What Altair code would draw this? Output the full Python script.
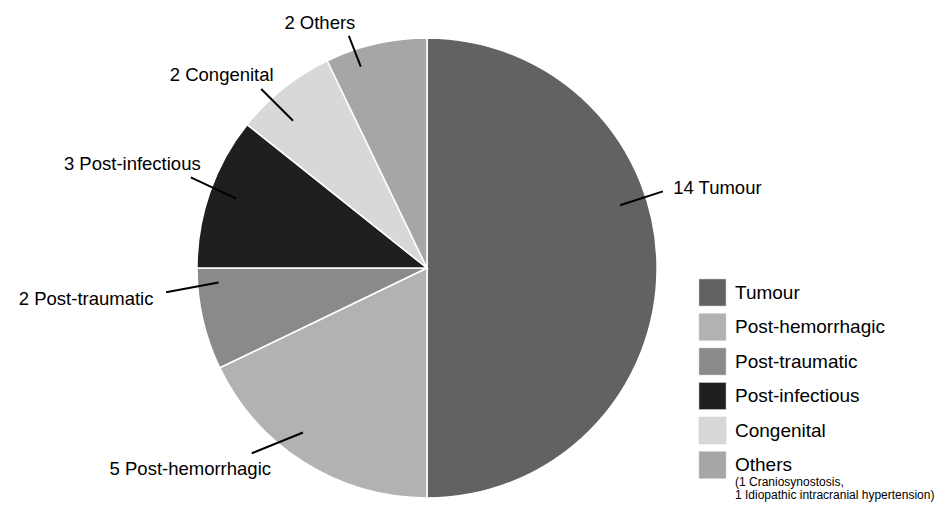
import math
import altair as alt
import pandas as pd

# ---- data ----
categories = ["Tumour", "Post-hemorrhagic", "Post-traumatic", "Post-infectious", "Congenital", "Others"]
counts = [14, 5, 2, 3, 2, 2]
colors = ["#626262", "#b2b2b2", "#8a8a8a", "#1f1f1f", "#d8d8d8", "#a6a6a6"]
others_note = ["(1 Craniosynostosis,", "1 Idiopathic intracranial hypertension)"]

# ---- layout constants ----
W, H = 952, 505
CX, CY, R = 427, 268, 230
FONT = "Liberation Sans"

# leader-line placement (angle in degrees clockwise from top, radius in px)
lead_inner = [(72, 203), (217, 206), (266, 209), (290, 203), (317.7, 199), (341.8, 212)]
lead_outer = [(72, 248), (223.4, 255), (264.7, 262), (291, 253), (317.2, 244), (341.4, 245)]
label_off = [(54.5, -3), (-61.5, 16), (-80, 7), (-58.5, -13), (-39.5, -14), (-29, -13)]


def polar(a, r):
    t = math.radians(a)
    return CX + r * math.sin(t), CY - r * math.cos(t)


pie_df = pd.DataFrame({"category": categories, "count": counts, "idx": range(len(categories))})

rows = []
for i, (c, n) in enumerate(zip(categories, counts)):
    x1, y1 = polar(*lead_inner[i])
    x2, y2 = polar(*lead_outer[i])
    rows.append({"x": x1, "y": y1, "x2": x2, "y2": y2,
                 "tx": x2 + label_off[i][0], "ty": y2 + label_off[i][1],
                 "label": f"{n} {c}"})
lab_df = pd.DataFrame(rows)

LEG_X, LEG_Y0, LEG_STEP, SQ = 712.5, 292.5, 34.5, 27
leg_df = pd.DataFrame({"category": categories,
                       "x": [LEG_X] * len(categories),
                       "y": [LEG_Y0 + LEG_STEP * i for i in range(len(categories))],
                       "tx": [735] * len(categories)})
note_df = pd.DataFrame({"note": others_note,
                        "x": [735, 735],
                        "y": [LEG_Y0 + LEG_STEP * 5 + 17, LEG_Y0 + LEG_STEP * 5 + 30]})

xs = alt.Scale(domain=[0, W], range=[0, W])
ys = alt.Scale(domain=[0, H], range=[0, H])
color_scale = alt.Scale(domain=categories, range=colors)

pie = alt.Chart(pie_df).mark_arc(outerRadius=R, stroke="white", strokeWidth=1.5).encode(
    theta=alt.Theta("count:Q", stack=True),
    color=alt.Color("category:N", scale=color_scale, legend=None),
    order=alt.Order("idx:Q"),
    x=alt.value(CX), y=alt.value(CY),
)

leaders = alt.Chart(lab_df).mark_rule(color="black", strokeWidth=2).encode(
    x=alt.X("x:Q", scale=xs, axis=None), y=alt.Y("y:Q", scale=ys, axis=None),
    x2="x2:Q", y2="y2:Q",
)

labels = alt.Chart(lab_df).mark_text(font=FONT, fontSize=18.5, align="center", baseline="middle",
                                     color="black").encode(
    x=alt.X("tx:Q", scale=xs, axis=None), y=alt.Y("ty:Q", scale=ys, axis=None), text="label:N",
)

leg_sq = alt.Chart(leg_df).mark_square(size=SQ * SQ, opacity=1, stroke="#cfcfcf", strokeWidth=0.5).encode(
    x=alt.X("x:Q", scale=xs, axis=None), y=alt.Y("y:Q", scale=ys, axis=None),
    color=alt.Color("category:N", scale=color_scale, legend=None),
)

leg_txt = alt.Chart(leg_df).mark_text(font=FONT, fontSize=19, align="left", baseline="middle",
                                      color="black").encode(
    x=alt.X("tx:Q", scale=xs, axis=None), y=alt.Y("y:Q", scale=ys, axis=None), text="category:N",
)

note_txt = alt.Chart(note_df).mark_text(font=FONT, fontSize=12, align="left", baseline="middle",
                                        color="black").encode(
    x=alt.X("x:Q", scale=xs, axis=None), y=alt.Y("y:Q", scale=ys, axis=None), text="note:N",
)

chart = alt.layer(pie, leaders, labels, leg_sq, leg_txt, note_txt).properties(
    width=W, height=H, padding=0, autosize=alt.AutoSizeParams(type="none"), background="white",
).configure_view(stroke=None)

chart.save("out.html", embed_options={"renderer": "svg", "actions": False})
